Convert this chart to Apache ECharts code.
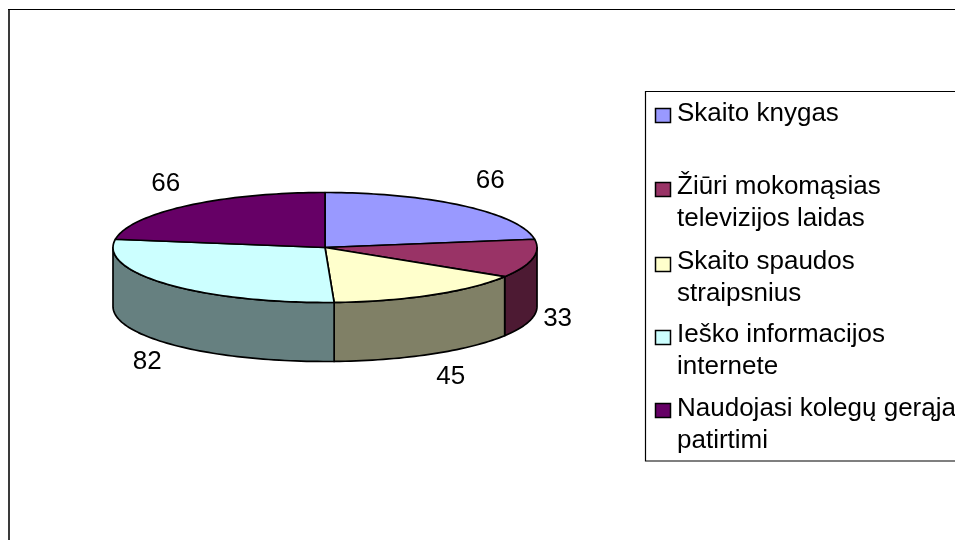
<!DOCTYPE html>
<html>
<head>
<meta charset="utf-8">
<style>html,body{margin:0;padding:0;background:#fff}#c{width:955px;height:540px}</style>
<script src="https://cdn.jsdelivr.net/npm/echarts@6/dist/echarts.min.js"></script>
</head>
<body>
<div id="c"></div>
<script>
const categories = [
  "Skaito knygas",
  "Žiūri mokomąsias\ntelevizijos laidas",
  "Skaito spaudos\nstraipsnius",
  "Ieško informacijos\ninternete",
  "Naudojasi kolegų gerąja\npatirtimi"
];
const values = [66, 33, 45, 82, 66];

const topColors = ["#9999FF", "#993366", "#FFFFCC", "#CCFFFF", "#660066"];
const sideColors = ["#4D4D80", "#4D1A33", "#808066", "#668080", "#330033"];

/* layout only */
const CX = 325, CY = 247.5, RX = 212, RY = 55, DEPTH = 59;
const labelNudge = [[27, -25], [25, 1], [19, 23], [-20, 19], [-21, -22]];
const legendTextTop = [98, 171, 246, 319, 393];
const swatchTop = [108, 182, 257, 330, 403];

const total = values.reduce((a, b) => a + b, 0);
const pt = (deg, dy) => {
  const r = deg * Math.PI / 180;
  return [CX + RX * Math.sin(r), CY - RY * Math.cos(r) + (dy || 0)];
};
const arc = (from, to, dy) => {
  const out = [];
  const n = Math.max(2, Math.ceil(Math.abs(to - from) / 1.5));
  for (let i = 0; i <= n; i++) out.push(pt(from + (to - from) * i / n, dy));
  return out;
};

function renderItem(params, api) {
  const i = params.dataIndex;
  let before = 0;
  for (let k = 0; k < i; k++) before += values[k];
  const v = api.value(0);
  const a0 = before / total * 360, a1 = (before + v) / total * 360, mid = (a0 + a1) / 2;
  const stroke = { stroke: '#000', lineWidth: 1.7, lineJoin: 'round' };
  const children = [];
  const s0 = Math.max(a0, 90), s1 = Math.min(a1, 270);
  if (s1 > s0) {
    children.push({
      type: 'polygon',
      shape: { points: arc(s0, s1, 0).concat(arc(s1, s0, DEPTH)) },
      style: Object.assign({ fill: sideColors[i] }, stroke)
    });
  }
  children.push({
    type: 'polygon',
    shape: { points: [[CX, CY]].concat(arc(a0, a1, 0)) },
    style: Object.assign({ fill: topColors[i] }, stroke)
  });
  const front = mid > 90 && mid < 270;
  const a = pt(mid, front ? DEPTH : 0);
  children.push({
    type: 'text',
    z2: 10,
    style: {
      x: a[0] + labelNudge[i][0], y: a[1] + labelNudge[i][1],
      text: String(v), fill: '#000', align: 'center', verticalAlign: 'middle',
      font: '26px "Liberation Sans", Arial, sans-serif'
    }
  });
  return { type: 'group', children };
}

const legendGraphics = [];
categories.forEach((name, i) => {
  legendGraphics.push({
    type: 'rect', shape: { x: 655.5, y: swatchTop[i] + 0.5, width: 15, height: 14 },
    style: { fill: topColors[i], stroke: '#000', lineWidth: 1.5 }
  });
  legendGraphics.push({
    type: 'text', x: 677, y: legendTextTop[i],
    style: { text: name, fill: '#000', font: '26px "Liberation Sans", Arial, sans-serif', lineHeight: 32, align: 'left', verticalAlign: 'top' }
  });
});

const chart = echarts.init(document.getElementById('c'), null, { renderer: 'canvas' });
chart.setOption({
  animation: false,
  backgroundColor: '#fff',
  series: [{
    type: 'custom',
    coordinateSystem: 'none',
    silent: true,
    data: values.map((v, i) => ({ name: categories[i], value: [v] })),
    renderItem
  }],
  graphic: { elements: [
    { type: 'rect', shape: { x: 8, y: 9, width: 2, height: 531 }, style: { fill: '#3a3a3a' } },
    { type: 'rect', shape: { x: 8, y: 9, width: 947, height: 1 }, style: { fill: '#000' } },
    { type: 'polyline', shape: { points: [[955, 91.5], [645.5, 91.5], [645.5, 461], [955, 461]] }, style: { fill: 'none', stroke: '#000', lineWidth: 1.2 } }
  ].concat(legendGraphics) }
});
</script>
</body>
</html>
